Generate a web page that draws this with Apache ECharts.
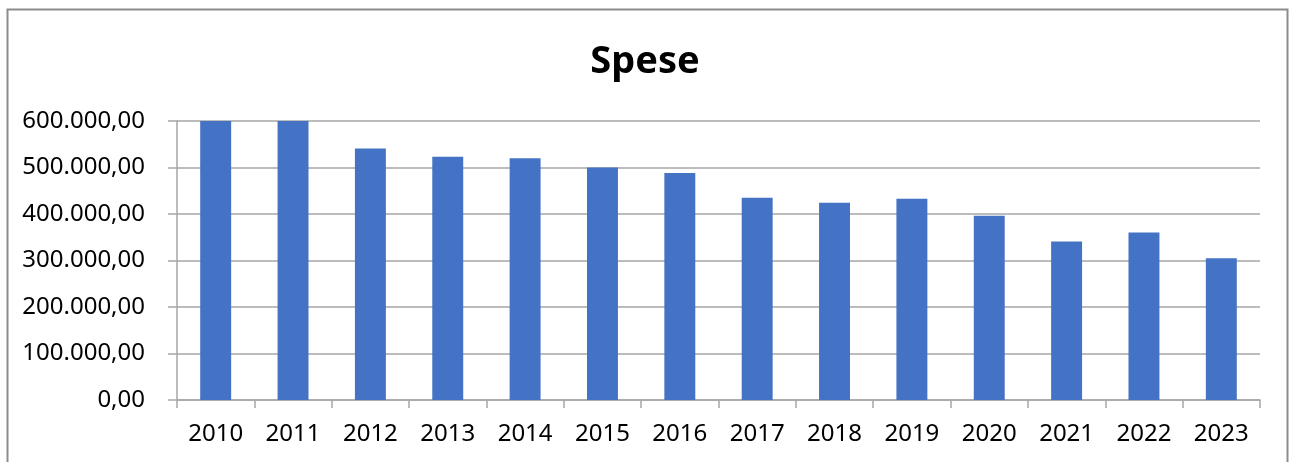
<!DOCTYPE html>
<html>
<head>
<meta charset="utf-8">
<script src="https://cdn.jsdelivr.net/npm/echarts@6/dist/echarts.min.js"></script>
<style>
  html, body { margin: 0; padding: 0; background: #fff; }
  #main { width: 1290px; height: 462px; }
</style>
</head>
<body>
<div id="main"></div>
<script>
// anni e spese
const years = ['2010', '2011', '2012', '2013', '2014', '2015', '2016',
               '2017', '2018', '2019', '2020', '2021', '2022', '2023'];
const spese = [600000, 600000, 541000, 523000, 520000, 500000, 488000,
               435000, 424000, 433000, 396000, 341000, 360000, 305000];
const yTicks = [0, 100000, 200000, 300000, 400000, 500000, 600000];

// formato italiano: 600.000,00
function fmt(v) {
    const parts = v.toFixed(2).split('.');
    const int = parts[0].replace(/\B(?=(\d{3})+(?!\d))/g, '.');
    return int + ',' + parts[1];
}

const chart = echarts.init(document.getElementById('main'));
const gray = '#a6a6a6';
const font = '"Noto Sans", sans-serif';

chart.setOption({
    backgroundColor: '#fff',
    animation: false,
    graphic: [{
        type: 'rect',
        shape: { x: 7.5, y: 9.5, width: 1280, height: 500 },
        style: { fill: 'none', stroke: '#8c8c8c', lineWidth: 2 },
        silent: true
    }],
    title: {
        text: 'Spese',
        left: 'center',
        top: 38,
        textStyle: { fontFamily: font, fontWeight: 'bold', fontSize: 38, color: '#000' }
    },
    grid: { left: 177, right: 30, top: 121, bottom: 62, containLabel: false },
    xAxis: {
        type: 'category',
        data: years,
        boundaryGap: true,
        axisLine: { show: true, lineStyle: { color: gray, width: 1.5 } },
        axisTick: { show: true, length: 8, lineStyle: { color: gray, width: 1.5 } },
        axisLabel: { margin: 22, color: '#000', fontFamily: font, fontSize: 24 }
    },
    yAxis: {
        type: 'value',
        min: yTicks[0],
        max: yTicks[yTicks.length - 1],
        interval: yTicks[1] - yTicks[0],
        axisLine: { show: true, lineStyle: { color: gray, width: 1.5 } },
        axisTick: { show: true, length: 9, lineStyle: { color: gray, width: 1.5 } },
        splitLine: { show: true, lineStyle: { color: gray, width: 1.5 } },
        axisLabel: { margin: 32, color: '#000', fontFamily: font, fontSize: 24, formatter: fmt }
    },
    series: [{
        name: 'Spese',
        type: 'bar',
        data: spese,
        barWidth: '40%',
        itemStyle: { color: '#4472C4' }
    }]
});
</script>
</body>
</html>
